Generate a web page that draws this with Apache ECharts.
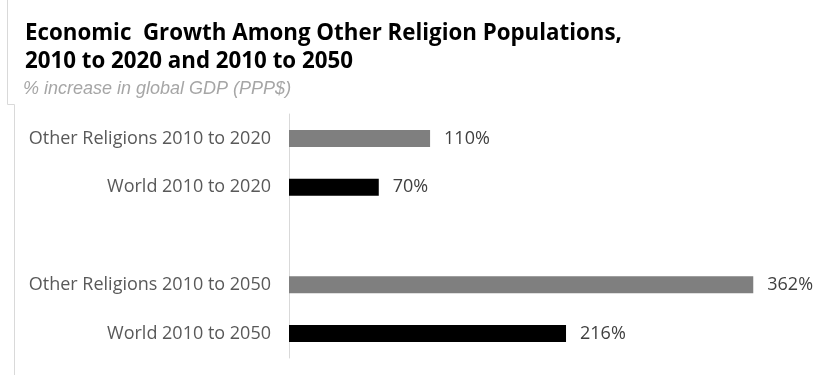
<!DOCTYPE html>
<html>
<head>
<meta charset="utf-8">
<script src="https://cdn.jsdelivr.net/npm/echarts@6/dist/echarts.min.js"></script>
<style>
  html, body { margin: 0; padding: 0; background: #fff; }
  #chart { width: 814px; height: 375px; }
</style>
</head>
<body>
<div id="chart"></div>
<script>
// categories, top to bottom ('' is the spacer row between the two groups)
var categories = ['Other Religions 2010 to 2020', 'World 2010 to 2020', '', 'Other Religions 2010 to 2050', 'World 2010 to 2050']
var values = [110, 70, null, 362, 216]
var barColors = ['#7f7f7f', '#000000', '#7f7f7f', '#7f7f7f', '#000000']

var chart = echarts.init(document.getElementById('chart'))

chart.setOption({
  animation: false,
  title: [
    {
      text: 'Economic  Growth Among Other Religion Populations,\n2010 to 2020 and 2010 to 2050',
      left: 20,
      top: 15,
      textStyle: {
        fontFamily: 'Open Sans',
        fontWeight: 'bold',
        fontSize: 22.3,
        lineHeight: 28,
        color: '#000'
      }
    },
    {
      text: '% increase in global GDP (PPP$)',
      left: 18,
      top: 75,
      textStyle: {
        fontFamily: 'Liberation Sans',
        fontStyle: 'italic',
        fontWeight: 'normal',
        fontSize: 18,
        color: '#a6a6a6'
      }
    }
  ],
  grid: {
    left: 289,
    top: 114,
    height: 244,
    right: 12,
    containLabel: false
  },
  xAxis: {
    type: 'value',
    min: 0,
    max: 400,
    show: false
  },
  yAxis: {
    type: 'category',
    inverse: true,
    data: categories,
    axisLine: { show: true, lineStyle: { color: '#d9d9d9', width: 1 } },
    axisTick: { show: false },
    axisLabel: {
      margin: 18,
      fontFamily: 'Open Sans',
      fontSize: 18,
      color: '#595959'
    }
  },
  series: [
    {
      type: 'bar',
      barWidth: 17,
      data: values.map(function (v, i) {
        return { value: v, itemStyle: { color: barColors[i] } }
      }),
      label: {
        show: true,
        position: 'right',
        distance: 14,
        fontFamily: 'Open Sans',
        fontSize: 18,
        color: '#404040',
        formatter: function (p) {
          return p.value == null ? '' : p.value + '%'
        }
      }
    }
  ],
  graphic: [
    { type: 'line', shape: { x1: 7.5, y1: 0, x2: 7.5, y2: 104.5 }, style: { stroke: '#d9d9d9', lineWidth: 1 } },
    { type: 'line', shape: { x1: 7.5, y1: 104.5, x2: 14.5, y2: 104.5 }, style: { stroke: '#d9d9d9', lineWidth: 1 } },
    { type: 'line', shape: { x1: 14.5, y1: 104.5, x2: 14.5, y2: 375 }, style: { stroke: '#d9d9d9', lineWidth: 1 } }
  ]
})
</script>
</body>
</html>
